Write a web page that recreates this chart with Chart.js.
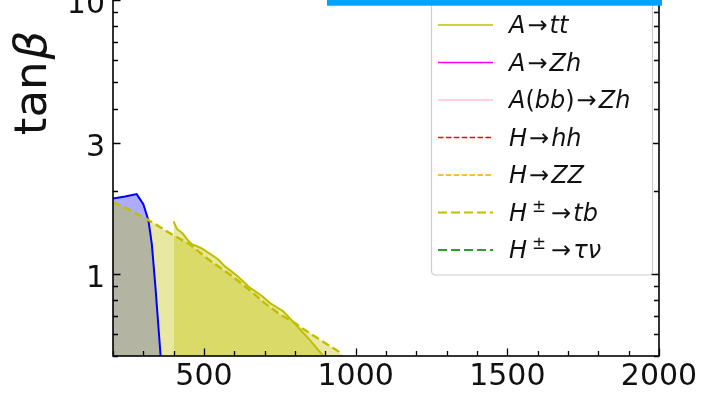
<!DOCTYPE html>
<html>
<head>
<meta charset="utf-8">
<script src="https://cdn.jsdelivr.net/npm/chart.js@4.4.1/dist/chart.umd.min.js"></script>
<style>
  html, body { margin: 0; padding: 0; background: #fff; }
  #wrap { width: 702px; height: 393px; overflow: hidden; position: relative; }
  #chart { position: absolute; left: 0; top: -40px; }
</style>
</head>
<body>
<div id="wrap"><canvas id="chart" width="702" height="433"></canvas></div>
<script>
const OFF = 40 // the figure's top is cut off, so the canvas sits 40px above the page

// blue exclusion (its legend entry is above the visible part)
const tauMass = [200, 240, 278, 300, 317, 328, 340, 357]
const tauTanb = [1.88, 1.91, 1.95, 1.79, 1.56, 1.28, 0.89, 0.5]

// A -> tt (solid)
const attMass = [400, 405, 412, 420, 430, 445, 460, 490, 515, 545, 570, 610, 650, 690, 718, 762, 800, 850, 893]
const attTanb = [1.55, 1.50, 1.45, 1.43, 1.40, 1.33, 1.28, 1.24, 1.19, 1.13, 1.06, 0.98, 0.89, 0.83, 0.78, 0.727, 0.655, 0.57, 0.5]

// H+- -> tb (dashed)
const htbMass = [200, 250, 322, 394, 454, 515, 592, 650, 700, 750, 795, 840, 884, 944, 955]
const htbTanb = [1.82, 1.72, 1.556, 1.39, 1.277, 1.125, 0.98, 0.87, 0.78, 0.71, 0.665, 0.614, 0.572, 0.519, 0.5]

const xTickLabels = [500, 1000, 1500, 2000]
const yTickLabels = [1, 3, 10]

const legendLabels = ['A→tt', 'A→Zh', 'A(bb)→Zh', 'H→hh', 'H→ZZ', 'H^±→tb', 'H^±→τν']
const legendColors = ['#bfbf00', '#ff00ff', '#ffc0cb', '#ff0000', '#ffa500', '#bfbf00', '#2ca02c']
const legendStyles = ['solid', 'solid', 'solid', 'dash', 'dash', 'longdash', 'longdash']

const pts = (xs, ys) => xs.map((x, i) => ({ x: x, y: ys[i] }))
const FONT = '"DejaVu Sans", sans-serif'

function putText(ctx, str, x, y, align) {
  const w = ctx.measureText(str).width
  const x0 = align === 'right' ? x - w : align === 'center' ? x - w / 2 : x
  ctx.textAlign = 'left'
  ctx.fillText(str, x0, y)
  return w
}

// math-ish label: letters italic, arrow/brackets upright, ^ makes a superscript
function mathText(ctx, str, x, y, size) {
  let cx = x
  for (let i = 0; i < str.length; i++) {
    let ch = str[i]
    let sup = false
    if (ch === '^') { sup = true; i++; ch = str[i] }
    const italic = /[A-Za-zτν]/.test(ch)
    const s = sup ? size * 0.7 : size
    ctx.font = (italic ? 'italic ' : '') + s + 'px ' + FONT
    if (sup) cx += 5
    if (ch === '→') cx += 2
    cx += putText(ctx, ch, cx, sup ? y - 9 : y, 'left')
    if (ch === '→') cx += 2
    if (sup) cx += 3
  }
}

const axesPlugin = {
  id: 'axesDeco',
  afterDraw(chart) {
    const ctx = chart.ctx
    const a = chart.chartArea
    const xs = chart.scales.x
    const ys = chart.scales.y
    ctx.save()
    ctx.strokeStyle = '#000'
    ctx.lineWidth = 1.3
    ctx.beginPath()
    for (let v = 200; v <= 2000; v += 100) {
      const px = Math.round(xs.getPixelForValue(v)) + 0.5
      const len = v % 500 === 0 ? 7.5 : 5
      ctx.moveTo(px, a.bottom); ctx.lineTo(px, a.bottom - len)
      ctx.moveTo(px, a.top); ctx.lineTo(px, a.top + len)
    }
    for (const d of [0.1, 1, 10]) {
      for (let m = 1; m <= 9; m++) {
        const v = m * d
        if (v < ys.min || v > ys.max) continue
        const py = Math.round(ys.getPixelForValue(v)) + 0.5
        const len = m === 1 || (m === 3 && d === 1) ? 7.5 : 5
        ctx.moveTo(a.left, py); ctx.lineTo(a.left + len, py)
        ctx.moveTo(a.right, py); ctx.lineTo(a.right - len, py)
      }
    }
    ctx.stroke()
    ctx.lineWidth = 1.6
    ctx.strokeRect(a.left, a.top, a.right - a.left, a.bottom - a.top)

    // tick labels
    ctx.fillStyle = '#111'
    ctx.font = '30px ' + FONT
    ctx.textBaseline = 'alphabetic'
    for (const v of xTickLabels) {
      putText(ctx, String(v), xs.getPixelForValue(v), 385 + OFF, 'center')
    }
    for (const v of yTickLabels) {
      putText(ctx, String(v), 105, ys.getPixelForValue(v) + 13, 'right')
    }

    // y title
    ctx.save()
    ctx.translate(46, 84 + OFF)
    ctx.rotate(-Math.PI / 2)
    ctx.font = '45px ' + FONT
    const w1 = ctx.measureText('tan').width
    ctx.font = 'italic 45px ' + FONT
    const w2 = ctx.measureText('β').width
    ctx.font = '45px ' + FONT
    ctx.fillText('tan', -(w1 + w2) / 2, 0)
    ctx.font = 'italic 45px ' + FONT
    ctx.fillText('β', -(w1 + w2) / 2 + w1 + 2, 0)
    ctx.restore()

    // legend
    ctx.beginPath()
    ctx.roundRect(431.5, 0, 221, 275 + OFF, 4)
    ctx.fillStyle = 'rgba(255,255,255,0.85)'
    ctx.fill()
    ctx.strokeStyle = '#cccccc'
    ctx.lineWidth = 1.2
    ctx.stroke()
    legendLabels.forEach((lab, i) => {
      const cy = 25 + i * 37.5 + OFF
      ctx.beginPath()
      ctx.strokeStyle = legendColors[i]
      const st = legendStyles[i]
      ctx.lineWidth = st === 'longdash' ? 2.2 : 1.6
      ctx.setLineDash(st === 'dash' ? [5.5, 2.4] : st === 'longdash' ? [9, 4] : [])
      ctx.moveTo(438, cy); ctx.lineTo(493, cy)
      ctx.stroke()
      ctx.setLineDash([])
      ctx.fillStyle = '#111'
      mathText(ctx, lab, 509, cy + 8, 24)
    })

    // blue bar at the top edge
    ctx.fillStyle = '#00a2ff'
    ctx.fillRect(327, 0, 335, OFF + 5.7)
    ctx.restore()
  }
}

new Chart(document.getElementById('chart'), {
  type: 'line',
  data: {
    datasets: [
      {
        label: 'A→tt',
        data: pts(attMass, attTanb),
        borderColor: '#bfbf00',
        borderWidth: 2,
        backgroundColor: 'rgba(191,191,0,0.36)',
        fill: 'start'
      },
      {
        label: 'H±→tb',
        data: pts(htbMass, htbTanb),
        borderColor: '#bfbf00',
        borderWidth: 2.4,
        borderDash: [8, 4],
        backgroundColor: 'rgba(191,191,0,0.36)',
        fill: 'start'
      },
      {
        label: 'H→ττ',
        data: pts(tauMass, tauTanb),
        borderColor: '#0000ff',
        borderWidth: 2,
        backgroundColor: 'rgba(0,0,255,0.32)',
        fill: 'start'
      }
    ]
  },
  options: {
    responsive: false,
    animation: false,
    layout: { padding: { top: 18, right: 43, left: 0, bottom: 0 } },
    elements: { point: { radius: 0 }, line: { tension: 0 } },
    plugins: {
      legend: { display: false },
      tooltip: { enabled: false },
      filler: { drawTime: 'beforeDatasetsDraw' }
    },
    scales: {
      x: {
        type: 'linear', min: 200, max: 2000,
        grid: { display: false }, border: { display: false }, ticks: { display: false },
        afterFit: s => { s.height = 37 }
      },
      y: {
        type: 'logarithmic', min: 0.5, max: 12,
        grid: { display: false }, border: { display: false }, ticks: { display: false },
        afterFit: s => { s.width = 113 }
      }
    }
  },
  plugins: [axesPlugin]
})
</script>
</body>
</html>
